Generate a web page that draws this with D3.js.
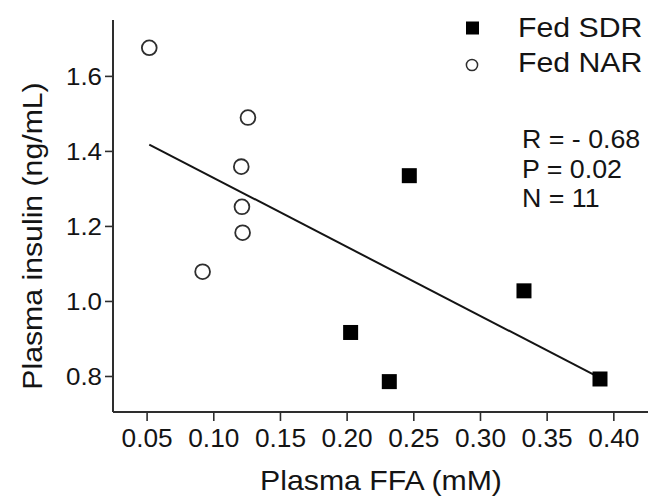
<!DOCTYPE html>
<html>
<head>
<meta charset="utf-8">
<script src="https://cdn.jsdelivr.net/npm/d3@7"></script>
<style>
  html, body { margin: 0; padding: 0; background: #fff; }
  svg { display: block; font-family: "Liberation Sans", Arial, Helvetica, sans-serif; }
</style>
</head>
<body>
<svg id="chart" width="655" height="497"></svg>
<script>
// ---- data ----
const sdrFFA     = [0.247, 0.203, 0.232, 0.333, 0.390];
const sdrInsulin = [1.334, 0.916, 0.785, 1.027, 0.792];
const narFFA     = [0.052, 0.126, 0.121, 0.1215, 0.122, 0.092];
const narInsulin = [1.675, 1.489, 1.358, 1.251, 1.182, 1.078];
const xTicks = [0.05, 0.10, 0.15, 0.20, 0.25, 0.30, 0.35, 0.40];
const yTicks = [0.8, 1.0, 1.2, 1.4, 1.6];
const legendLabels = ["Fed SDR", "Fed NAR"];
const statsLines = ["R = - 0.68", "P = 0.02", "N = 11"];
const xTitle = "Plasma FFA (mM)";
const yTitle = "Plasma insulin (ng/mL)";

// ---- layout ----
const svg = d3.select("#chart");
const ink = "#141414";
const axisInk = "#2e2e2e";
const plotL = 113, plotR = 648, plotT = 20, plotB = 412;

const x = d3.scaleLinear().domain([0.0248, 0.426]).range([plotL, plotR]);
const y = d3.scaleLinear().domain([0.704, 1.749]).range([plotB, plotT]);

// axes
const xAxis = d3.axisBottom(x).tickValues(xTicks).tickSize(9).tickPadding(8)
  .tickFormat(d3.format(".2f"));
const yAxis = d3.axisLeft(y).tickValues(yTicks).tickSize(8).tickPadding(3)
  .tickFormat(d3.format(".1f"));

const gx = svg.append("g").attr("transform", `translate(0,${plotB})`).call(xAxis);
const gy = svg.append("g").attr("transform", `translate(${plotL},0)`).call(yAxis);

[gx, gy].forEach(g => {
  g.select(".domain").attr("stroke", axisInk).attr("stroke-width", 2);
  g.selectAll(".tick line").attr("stroke", axisInk).attr("stroke-width", 1.6);
  g.selectAll(".tick text").attr("fill", ink).attr("font-family", null);
});
gx.select(".domain").attr("d", `M${plotL},0H${plotR}`);
gy.select(".domain").attr("d", `M0,${plotT}V${plotB}`);

gx.selectAll(".tick text").attr("font-size", 25).attr("dy", null).attr("y", 0)
  .attr("transform", `translate(0,35) scale(1.05,1)`);
gy.selectAll(".tick text").attr("font-size", 24).attr("x", 0).attr("dy", null)
  .attr("transform", `translate(-11,8.5) scale(1.08,1)`);

// regression line (least squares over all points)
const allX = narFFA.concat(sdrFFA);
const allY = narInsulin.concat(sdrInsulin);
const mx = d3.mean(allX), my = d3.mean(allY);
const slope = d3.sum(allX, (v, i) => (v - mx) * (allY[i] - my)) / d3.sum(allX, v => (v - mx) ** 2);
const icpt = my - slope * mx;
const [x0, x1] = d3.extent(allX);
svg.append("line")
  .attr("x1", x(x0)).attr("y1", y(icpt + slope * x0))
  .attr("x2", x(x1)).attr("y2", y(icpt + slope * x1))
  .attr("stroke", ink).attr("stroke-width", 2);

// points
const sq = 15;
svg.append("g").selectAll("rect").data(sdrFFA).join("rect")
  .attr("x", (d) => x(d) - sq / 2)
  .attr("y", (d, i) => y(sdrInsulin[i]) - sq / 2)
  .attr("width", sq).attr("height", sq)
  .attr("fill", "#000");

svg.append("g").selectAll("circle").data(narFFA).join("circle")
  .attr("cx", d => x(d))
  .attr("cy", (d, i) => y(narInsulin[i]))
  .attr("r", 7.4)
  .attr("fill", "#fff").attr("stroke", axisInk).attr("stroke-width", 1.8);

// axis titles
svg.append("text").attr("transform", `translate(381,490) scale(1.08,1)`)
  .attr("text-anchor", "middle").attr("font-size", 28).attr("fill", ink).text(xTitle);
svg.append("text").attr("transform", `translate(42,236) rotate(-90) scale(1.08,1)`)
  .attr("text-anchor", "middle").attr("font-size", 28).attr("fill", ink).text(yTitle);

// legend
svg.append("rect").attr("x", 472.5 - 6.5).attr("y", 28 - 6.5).attr("width", 13).attr("height", 13).attr("fill", "#000");
svg.append("circle").attr("cx", 472).attr("cy", 65).attr("r", 5.6)
  .attr("fill", "#fff").attr("stroke", axisInk).attr("stroke-width", 1.5);
svg.append("g").selectAll("text").data(legendLabels).join("text")
  .attr("transform", (d, i) => `translate(518,${36.7 + i * 35}) scale(1.1,1)`)
  .attr("font-size", 27.5).attr("fill", ink).text(d => d);

// stats
svg.append("g").selectAll("text").data(statsLines).join("text")
  .attr("transform", (d, i) => `translate(522,${148.3 + i * 29.2}) scale(1.05,1)`)
  .attr("font-size", 25.5).attr("fill", ink).text(d => d);
</script>
</body>
</html>
